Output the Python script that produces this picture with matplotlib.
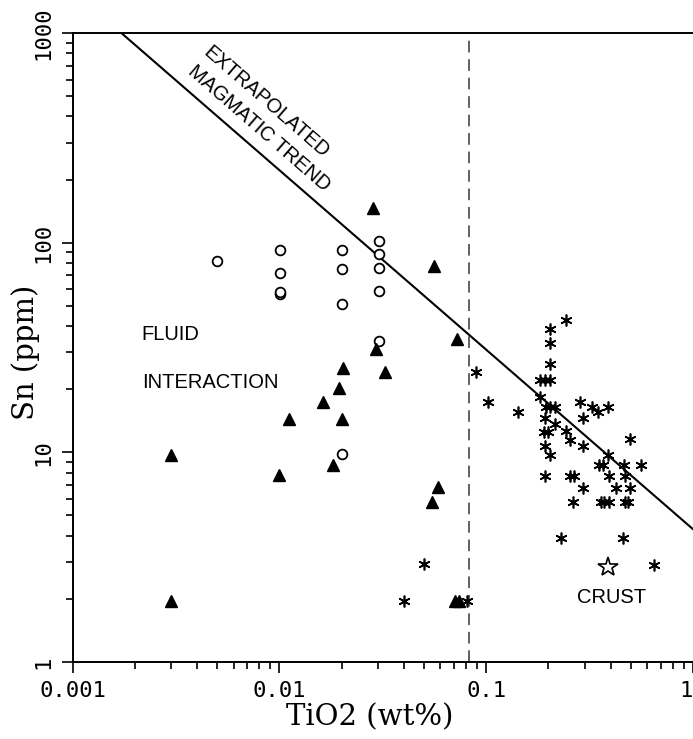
import matplotlib
matplotlib.use("Agg")
import matplotlib.pyplot as plt
from matplotlib.ticker import LogLocator, NullFormatter

# open circles
circle_tio2 = [0.005, 0.0101, 0.0101, 0.0101, 0.0101, 0.0201, 0.0201, 0.0201,
               0.0201, 0.0303, 0.0303, 0.0303, 0.0303, 0.0303]
circle_sn = [82, 92, 72, 57, 58.5, 92, 75, 51, 9.8, 102, 88, 76, 59, 34]

# filled triangles
tri_tio2 = [0.0283, 0.0556, 0.0721, 0.0292, 0.0203, 0.0324, 0.0193, 0.0162,
            0.0111, 0.0201, 0.0182, 0.0100, 0.0583, 0.0545, 0.0030, 0.0030,
            0.0710, 0.0740]
tri_sn = [146, 77, 34.7, 31, 25.2, 24.2, 20.2, 17.4, 14.5, 14.5, 8.7, 7.8,
          6.86, 5.8, 9.7, 1.96, 1.95, 1.95]

# asterisks
ast_tio2 = [0.0399, 0.050, 0.0805, 0.0895, 0.102, 0.142, 0.243, 0.204, 0.204,
            0.204, 0.183, 0.193, 0.204, 0.181, 0.195, 0.204, 0.214, 0.284,
            0.325, 0.346, 0.387, 0.295, 0.192, 0.214, 0.190, 0.200, 0.243,
            0.253, 0.295, 0.497, 0.192, 0.204, 0.387, 0.352, 0.366, 0.466,
            0.561, 0.192, 0.253, 0.265, 0.394, 0.470, 0.295, 0.425, 0.497,
            0.262, 0.360, 0.373, 0.391, 0.469, 0.487, 0.230, 0.457, 0.650]
ast_sn = [1.95, 2.92, 1.95, 24.2, 17.4, 15.5, 42.7, 38.7, 33.1,
          26.3, 22.2, 22.2, 22.2, 18.4, 16.5, 16.5, 16.5, 17.4,
          16.5, 15.5, 16.5, 14.6, 14.6, 13.6, 12.5, 12.5, 12.7,
          11.5, 10.7, 11.6, 10.75, 9.7, 9.7, 8.7, 8.7, 8.7,
          8.7, 7.74, 7.74, 7.74, 7.74, 7.74, 6.74, 6.74, 6.74,
          5.81, 5.81, 5.81, 5.81, 5.81, 5.81, 3.89, 3.89, 2.9]

# average crust
crust_tio2 = [0.387]
crust_sn = [2.85]

# extrapolated magmatic trend, end points
trend_tio2 = [0.00172, 1.0]
trend_sn = [1000, 4.3]

tio2_cutoff = 0.083

xticks = [0.001, 0.01, 0.1, 1]
xticklabels = ["0.001", "0.01", "0.1", "1"]
yticks = [1, 10, 100, 1000]
yticklabels = ["1", "10", "100", "1000"]

fig = plt.figure(figsize=(6.93, 7.39), dpi=100)
ax = fig.add_axes([0.1049, 0.1042, 0.8951, 0.8511])
ax.set_xscale("log")
ax.set_yscale("log")

ax.plot(trend_tio2, trend_sn, color="black", lw=1.5, zorder=2)
ax.axvline(tio2_cutoff, color="#606060", lw=1.4, linestyle=(0, (6, 3.5)), zorder=1)

ax.plot(circle_tio2, circle_sn, "o", ms=7, mfc="white", mec="black", mew=1.3,
        linestyle="none", zorder=3)
ax.plot(tri_tio2, tri_sn, "^", ms=8, color="black", linestyle="none", zorder=3)
ax.plot(ast_tio2, ast_sn, marker=(6, 2, 0), ms=8.5, color="black", mew=1.2,
        linestyle="none", zorder=3)
ax.plot(crust_tio2, crust_sn, "*", ms=15, mfc="white", mec="black", mew=1.2,
        linestyle="none", zorder=3)

ax.set_xlim(0.001, 1)
ax.set_ylim(1, 1000)

ax.set_xticks(xticks)
ax.set_xticklabels(xticklabels, family="DejaVu Sans Mono", fontsize=16)
ax.get_xticklabels()[-1].set_ha("right")
ax.set_yticks(yticks)
ax.set_yticklabels(yticklabels, family="DejaVu Sans Mono", fontsize=16,
                   rotation=90, va="center")
ax.xaxis.set_minor_locator(LogLocator(base=10, subs=range(2, 10)))
ax.yaxis.set_minor_locator(LogLocator(base=10, subs=range(2, 10)))
ax.xaxis.set_minor_formatter(NullFormatter())
ax.yaxis.set_minor_formatter(NullFormatter())
ax.tick_params(which="major", direction="out", length=8, width=1.2, pad=6,
               top=False, right=False)
ax.tick_params(which="minor", direction="out", length=5, width=1.2,
               top=False, right=False)

for side in ["left", "bottom", "top"]:
    ax.spines[side].set_linewidth(1.4)
ax.spines["right"].set_visible(False)

ax.set_xlabel("TiO2 (wt%)", family="DejaVu Serif", fontsize=21)
ax.set_ylabel("Sn (ppm)", family="DejaVu Serif", fontsize=21)
ax.xaxis.set_label_coords(0.478, -0.066)
ax.yaxis.set_label_coords(-0.053, 0.493)

txt = dict(family="Liberation Sans", fontsize=14.5, transform=ax.transAxes)
ax.text(0.3117, 0.8903, "EXTRAPOLATED", rotation=-41, rotation_mode="anchor",
        ha="center", va="center", **txt)
ax.text(0.3003, 0.849, "MAGMATIC TREND", rotation=-41, rotation_mode="anchor",
        ha="center", va="center", **txt)
ax.text(0.1112, 0.5204, "FLUID", ha="left", va="center", **txt)
ax.text(0.1112, 0.4436, "INTERACTION", ha="left", va="center", **txt)
ax.text(0.813, 0.1033, "CRUST", ha="left", va="center", **txt)

fig.savefig("out.png", dpi=100)
